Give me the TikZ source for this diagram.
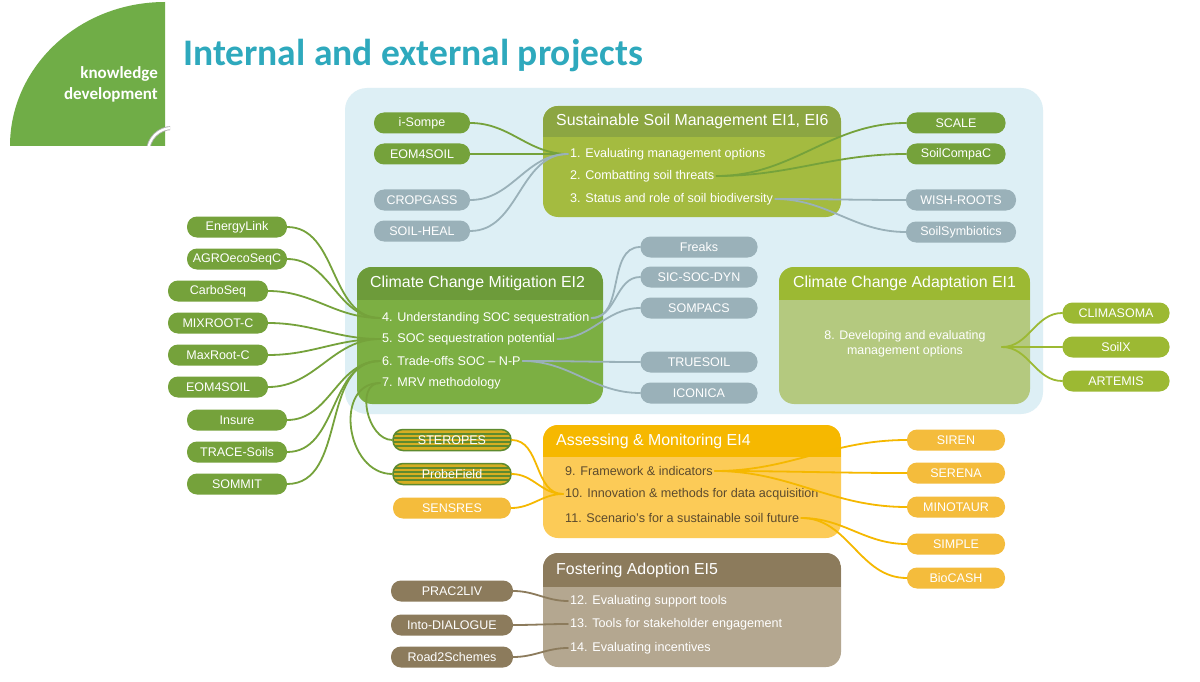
\documentclass[tikz,border=0pt]{standalone}
\usepackage{fontspec}
\setmainfont{Liberation Sans}
\newfontfamily\headfont{Carlito}
\definecolor{bgblue}{HTML}{DDEFF5}
\definecolor{logogreen}{HTML}{70AD47}
\definecolor{titleteal}{HTML}{2EA9BD}
\definecolor{pillgreen}{HTML}{75A23B}
\definecolor{pillgrey}{HTML}{9AB1B9}
\definecolor{ccagreen}{HTML}{9CB933}
\definecolor{amber}{HTML}{F4BC3C}
\definecolor{amberline}{HTML}{F5B800}
\definecolor{brown}{HTML}{8C7B5C}
\definecolor{mustard}{HTML}{D6AE22}
\definecolor{stripegreen}{HTML}{5E8A2E}
\definecolor{ssmhead}{HTML}{8CA642}
\definecolor{ssmbody}{HTML}{A4BB40}
\definecolor{ccmhead}{HTML}{6D9B3A}
\definecolor{ccmbody}{HTML}{7CAF43}
\definecolor{ccabody}{HTML}{B4C97F}
\definecolor{amhead}{HTML}{F6B800}
\definecolor{ambody}{HTML}{FCCB57}
\definecolor{amtext}{HTML}{5C4B2E}
\definecolor{fabody}{HTML}{B4A790}
\tikzset{
  pill/.style={rounded corners=10pt, minimum height=21pt, inner sep=0pt, text=white,
    font=\fontsize{12.5}{14}\selectfont},
  greenpill/.style={pill, fill=pillgreen, minimum width=96pt},
  greypill/.style={pill, fill=pillgrey, minimum width=96pt},
  ccapill/.style={pill, fill=ccagreen, minimum width=107pt},
  amberpill/.style={pill, fill=amber, minimum width=98pt},
  brownpill/.style={pill, fill=brown, minimum width=122pt},
  stripepill/.style={pill, fill=mustard, draw=stripegreen, line width=1.5pt, minimum width=118pt,
    path picture={\foreach \k in {-6,-2,2,6}
      \draw[stripegreen, line width=1.2pt] ([yshift=\k pt]path picture bounding box.west)
        -- ([yshift=\k pt]path picture bounding box.east);}},
  boxtitle/.style={anchor=west, inner sep=0pt, text=white, font=\fontsize{15.9}{18}\selectfont},
  item/.style={anchor=west, inner sep=2pt, text=white, font=\fontsize{12.6}{14}\selectfont},
  lnk/.style={line width=1.8pt, line cap=round},
}
\begin{document}
\begin{tikzpicture}[x=1pt, y=-1pt]
  \useasboundingbox[fill=white] (0,0) rectangle (1200,682);
  % logo
  \begin{scope}
    \clip (10,2) rectangle (165,146);
    \fill[logogreen] (165,146) ellipse [x radius=155, y radius=144];
  \end{scope}
  \begin{scope}
    \clip (140,120) rectangle (170,146);
    \draw[gray!60, line width=4pt] (172,152) circle (24);
    \draw[white, line width=2.2pt] (172,152) circle (24);
  \end{scope}
  \node[anchor=base east, align=right, inner sep=0pt, text=white,
    font=\headfont\bfseries\fontsize{17}{21.5}\selectfont] (logotext) at (158,100) {knowledge\\development};
  \node[anchor=base west, inner sep=0pt, text=titleteal,
    font=\headfont\bfseries\fontsize{37.5}{42}\selectfont] (title) at (183,66) {Internal and external projects};
  % background
  \fill[bgblue, rounded corners=22pt] (345,88) rectangle (1043,414);
  % sustainable soil management
  \fill[ssmbody, rounded corners=15pt] (543,106) rectangle (841,217);
  \begin{scope}
    \clip[rounded corners=15pt] (543,106) rectangle (841,217);
    \fill[ssmhead] (543,106) rectangle (841,137);
  \end{scope}
  \node[boxtitle] (ssmtitle) at (556,121.5) {Sustainable Soil Management EI1, EI6};
  \node[item] (ssm1) at (568,154) {1. Evaluating management options};
  \node[item] (ssm2) at (568,176) {2. Combatting soil threats};
  \node[item] (ssm3) at (568,199) {3. Status and role of soil biodiversity};
  % climate change mitigation
  \fill[ccmbody, rounded corners=15pt] (357,267) rectangle (603,404);
  \begin{scope}
    \clip[rounded corners=15pt] (357,267) rectangle (603,404);
    \fill[ccmhead] (357,267) rectangle (603,300);
  \end{scope}
  \node[boxtitle] (ccmtitle) at (370,283.5) {Climate Change Mitigation EI2};
  \node[item] (ccm4) at (380,318) {4. Understanding SOC sequestration};
  \node[item] (ccm5) at (380,339) {5. SOC sequestration potential};
  \node[item] (ccm6) at (380,361) {6. Trade-offs SOC -- N-P};
  \node[item] (ccm7) at (380,383) {7. MRV methodology};
  % climate change adaptation
  \fill[ccabody, rounded corners=15pt] (779,267) rectangle (1030,404);
  \begin{scope}
    \clip[rounded corners=15pt] (779,267) rectangle (1030,404);
    \fill[ccagreen] (779,267) rectangle (1030,300);
  \end{scope}
  \node[boxtitle] (ccatitle) at (793,283.5) {Climate Change Adaptation EI1};
  \node[align=center, inner sep=0pt, text=white, font=\fontsize{12.4}{15}\selectfont] (cca8) at (905,344)
    {8. Developing and evaluating\\management options};
  \coordinate (ccajoin) at (1002,347);
  % assessing and monitoring
  \fill[ambody, rounded corners=15pt] (543,425) rectangle (841,538);
  \begin{scope}
    \clip[rounded corners=15pt] (543,425) rectangle (841,538);
    \fill[amhead] (543,425) rectangle (841,457);
  \end{scope}
  \node[boxtitle] (amtitle) at (556,441) {Assessing \& Monitoring EI4};
  \node[item, text=amtext] (am9) at (563,471) {9. Framework \& indicators};
  \node[item, text=amtext] (am10) at (563,494) {10. Innovation \& methods for data acquisition};
  \node[item, text=amtext] (am11) at (563,518) {11. Scenario's for a sustainable soil future};
  % fostering adoption
  \fill[fabody, rounded corners=15pt] (543,553) rectangle (841,667);
  \begin{scope}
    \clip[rounded corners=15pt] (543,553) rectangle (841,667);
    \fill[brown] (543,553) rectangle (841,587);
  \end{scope}
  \node[boxtitle] (fatitle) at (556,570) {Fostering Adoption EI5};
  \node[item] (fa12) at (568,601) {12. Evaluating support tools};
  \node[item] (fa13) at (568,624) {13. Tools for stakeholder engagement};
  \node[item] (fa14) at (568,648) {14. Evaluating incentives};
  % project pills
  \node[greenpill] (isompe) at (422,123) {i-Sompe};
  \node[greenpill] (eoma) at (422,154) {EOM4SOIL};
  \node[greypill] (cropgass) at (422,200) {CROPGASS};
  \node[greypill] (soilheal) at (422,231) {SOIL-HEAL};
  \node[greenpill, minimum width=99pt] (scale) at (956,123) {SCALE};
  \node[greenpill, minimum width=99pt] (soilcompac) at (956,154) {SoilCompaC};
  \node[greypill, minimum width=110pt] (wishroots) at (961,200) {WISH-ROOTS};
  \node[greypill, minimum width=110pt] (soilsymb) at (961,232) {SoilSymbiotics};
  \node[greenpill, minimum width=100pt] (energylink) at (237,227) {EnergyLink};
  \node[greenpill, minimum width=100pt] (agroeco) at (237,259) {AGROecoSeqC};
  \node[greenpill, minimum width=100pt] (carboseq) at (218,291) {CarboSeq};
  \node[greenpill, minimum width=100pt] (mixroot) at (218,323) {MIXROOT-C};
  \node[greenpill, minimum width=100pt] (maxroot) at (218,355) {MaxRoot-C};
  \node[greenpill, minimum width=100pt] (eomb) at (218,387) {EOM4SOIL};
  \node[greenpill, minimum width=100pt] (insure) at (237,420) {Insure};
  \node[greenpill, minimum width=100pt] (trace) at (237,452) {TRACE-Soils};
  \node[greenpill, minimum width=100pt] (sommit) at (237,484) {SOMMIT};
  \node[greypill, minimum width=117pt] (freaks) at (699,247) {Freaks};
  \node[greypill, minimum width=117pt] (sicsoc) at (699,277) {SIC-SOC-DYN};
  \node[greypill, minimum width=117pt] (sompacs) at (699,308) {SOMPACS};
  \node[greypill, minimum width=117pt] (truesoil) at (699,362) {TRUESOIL};
  \node[greypill, minimum width=117pt] (iconica) at (699,393) {ICONICA};
  \node[ccapill] (climasoma) at (1116,313) {CLIMASOMA};
  \node[ccapill] (soilx) at (1116,347) {SoilX};
  \node[ccapill] (artemis) at (1116,381) {ARTEMIS};
  \node[stripepill] (steropes) at (452,440) {STEROPES};
  \node[stripepill] (probefield) at (452,474) {ProbeField};
  \node[amberpill, minimum width=118pt] (sensres) at (452,508) {SENSRES};
  \node[amberpill] (siren) at (956,440) {SIREN};
  \node[amberpill] (serena) at (956,473) {SERENA};
  \node[amberpill] (minotaur) at (956,507) {MINOTAUR};
  \node[amberpill] (simple) at (956,544) {SIMPLE};
  \node[amberpill] (biocash) at (956,578) {BioCASH};
  \node[brownpill] (prac2liv) at (452,591) {PRAC2LIV};
  \node[brownpill] (intodialogue) at (452,625) {Into-DIALOGUE};
  \node[brownpill] (road2schemes) at (452,657) {Road2Schemes};
  % connectors
  \draw[lnk, pillgreen] (isompe.east) to[out=0, in=180] (ssm1.west);
  \draw[lnk, pillgreen] (eoma.east) to[out=0, in=180] (ssm1.west);
  \draw[lnk, pillgrey] (cropgass.east) to[out=0, in=180] (ssm1.west);
  \draw[lnk, pillgrey] (soilheal.east) to[out=0, in=180] (ssm1.west);
  \draw[lnk, pillgreen] (ssm2.east) to[out=0, in=180] (scale.west);
  \draw[lnk, pillgreen] (ssm2.east) to[out=0, in=180] (soilcompac.west);
  \draw[lnk, pillgrey] (ssm3.east) to[out=0, in=180] (wishroots.west);
  \draw[lnk, pillgrey] (ssm3.east) to[out=0, in=180] (soilsymb.west);
  \foreach \p in {energylink, agroeco, carboseq}
    \draw[lnk, pillgreen] (\p.east) to[out=0, in=180] (ccm4.west);
  \foreach \p in {mixroot, maxroot, eomb}
    \draw[lnk, pillgreen] (\p.east) to[out=0, in=180] (ccm5.west);
  \foreach \p in {insure, trace, sommit}
    \draw[lnk, pillgreen] (\p.east) to[out=0, in=180] (ccm6.west);
  \draw[lnk, pillgreen] (ccm7.west) to[out=180, in=180, looseness=1.1] (steropes.west);
  \draw[lnk, pillgreen] (ccm7.west) to[out=180, in=180, looseness=1.3] (probefield.west);
  \draw[lnk, pillgrey] (ccm4.east) to[out=0, in=180] (freaks.west);
  \draw[lnk, pillgrey] (ccm4.east) to[out=0, in=180] (sicsoc.west);
  \draw[lnk, pillgrey] (ccm5.east) to[out=0, in=180] (sompacs.west);
  \draw[lnk, pillgrey] (ccm6.east) to[out=0, in=180] (truesoil.west);
  \draw[lnk, pillgrey] (ccm6.east) to[out=0, in=180] (iconica.west);
  \foreach \p in {climasoma, soilx, artemis}
    \draw[lnk, ccagreen] (ccajoin) to[out=0, in=180] (\p.west);
  \foreach \p in {steropes, probefield, sensres}
    \draw[lnk, amberline] (\p.east) to[out=0, in=180] (am10.west);
  \foreach \p in {siren, serena, minotaur}
    \draw[lnk, amberline] (am9.east) to[out=0, in=180] (\p.west);
  \foreach \p in {simple, biocash}
    \draw[lnk, amberline] (am11.east) to[out=0, in=180] (\p.west);
  \draw[lnk, brown] (prac2liv.east) to[out=0, in=180] (fa12.west);
  \draw[lnk, brown] (intodialogue.east) to[out=0, in=180] (fa13.west);
  \draw[lnk, brown] (road2schemes.east) to[out=0, in=180] (fa14.west);
\end{tikzpicture}
\end{document}
